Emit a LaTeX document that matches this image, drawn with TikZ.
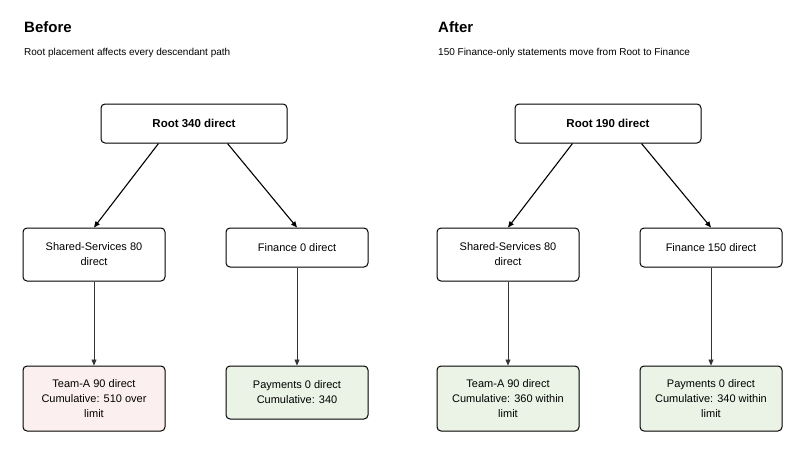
\documentclass[tikz,border=0pt]{standalone}
\usepackage{fontspec}
\setmainfont{Liberation Sans}
\usetikzlibrary{arrows.meta}
\definecolor{pinkf}{HTML}{FCEFEF}
\definecolor{greenf}{HTML}{EAF3E5}
\begin{document}
\begin{tikzpicture}[x=1pt,y=-1pt,
 box/.style={draw=black,rounded corners=4pt,line width=1pt,fill=white,align=center,font=\fontsize{11}{15}\selectfont,inner sep=0pt},
 diag/.style={line width=1.1pt,-{Triangle[length=6pt,width=5pt]}},
 vert/.style={draw=black!80,line width=0.7pt,-{Triangle[length=6pt,width=5pt]}},
 title/.style={anchor=west,font=\bfseries\fontsize{15}{18}\selectfont,inner sep=0pt},
 sub/.style={anchor=west,font=\fontsize{10}{12}\selectfont,inner sep=0pt}]
\useasboundingbox (0,0) rectangle (800,450);
\foreach \p/\ox/\T/\S/\R/\F/\TA/\PA/\tc/\pc/\ph/\py in {
 L/0/Before/{Root placement affects every descendant path}/{Root 340 direct}/{Finance 0 direct}/{Team-A 90 direct\\Cumulative: 510 over\\limit}/{Payments 0 direct\\Cumulative: 340}/pinkf/greenf/53/392.5,
 R/414/After/{150 Finance-only statements move from Root to Finance}/{Root 190 direct}/{Finance 150 direct}/{Team-A 90 direct\\Cumulative: 360 within\\limit}/{Payments 0 direct\\Cumulative: 340 within\\limit}/greenf/greenf/65/398.5}{
 \begin{scope}[xshift=\ox]
 \node[title] (t\p) at (24,27) {\T};
 \node[sub] (s\p) at (24,53) {\S};
 \node[box,minimum width=186pt,minimum height=39pt,font=\bfseries\fontsize{11.5}{14}\selectfont] (r\p) at (194,123.5) {\R};
 \node[box,minimum width=142pt,minimum height=53pt] (a\p) at (94,254.5) {Shared-Services 80\\direct};
 \node[box,minimum width=142pt,minimum height=39pt] (f\p) at (297,247.5) {\F};
 \node[box,minimum width=142pt,minimum height=65pt,fill=\tc] (ta\p) at (94,398.5) {\TA};
 \node[box,minimum width=142pt,minimum height=\ph pt,fill=\pc] (pa\p) at (297,\py) {\PA};
 \draw[diag] (r\p.south west)++(58,0) coordinate (c1\p) -- (a\p.north);
 \draw[diag] (r\p.south west)++(127,0) coordinate (c2\p) -- (f\p.north);
 \draw[vert] (a\p) -- (ta\p);
 \draw[vert] (f\p) -- (pa\p);
 \end{scope}}
\end{tikzpicture}
\end{document}
